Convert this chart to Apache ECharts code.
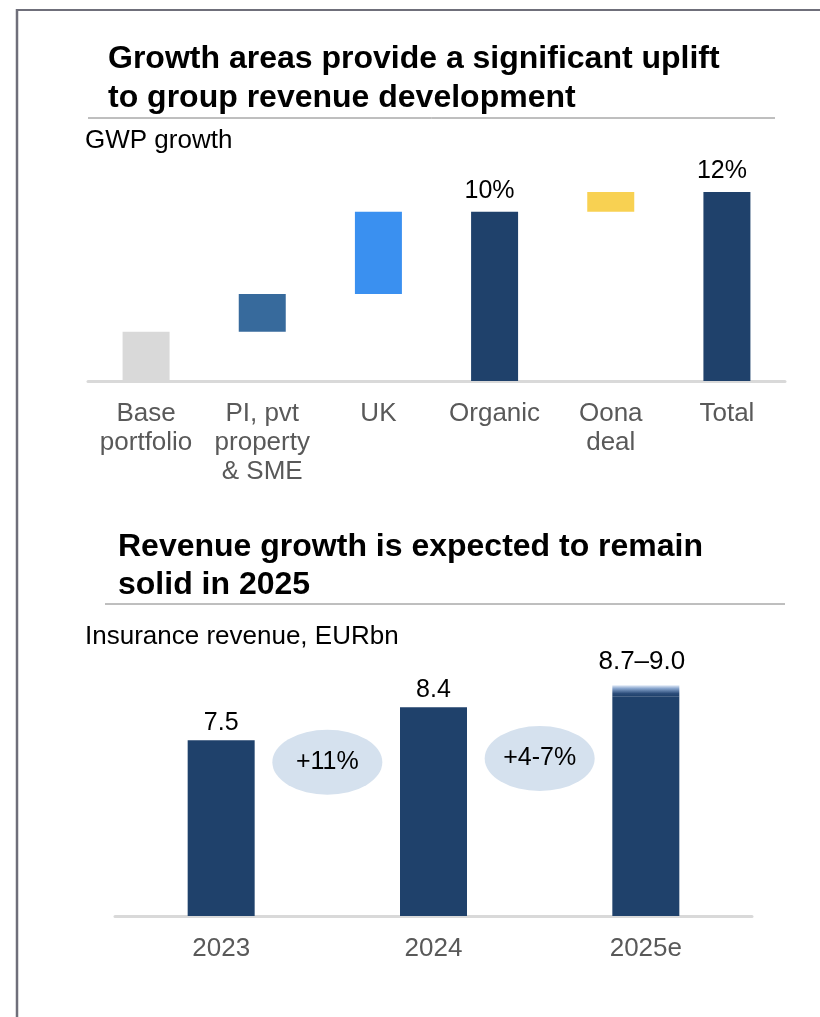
<!DOCTYPE html>
<html>
<head>
<meta charset="utf-8">
<script src="https://cdn.jsdelivr.net/npm/echarts@6/dist/echarts.min.js"></script>
<style>
html,body{margin:0;padding:0;background:#fff;}
#chart{width:820px;height:1017px;}
</style>
</head>
<body>
<div id="chart"></div>
<script>
// ---- Data ----
const gwpCategories = ['Base\nportfolio', 'PI, pvt\nproperty\n& SME', 'UK', 'Organic', 'Oona\ndeal', 'Total'];
const gwpValues = [3.0, 2.3, 5.0, 10.3, 1.2, 11.5];
const gwpIsTotal = [false, false, false, true, false, true];
const gwpLabels = ['', '', '', '10%', '', '12%'];

const revCategories = ['2023', '2024', '2025e'];
const revLow = [7.5, 8.4, 8.7];
const revHigh = [7.5, 8.4, 9.0];
const revLabels = ['7.5', '8.4', '8.7–9.0'];
const growthLabels = ['+11%', '+4-7%'];

// ---- Styles ----
const gwpColors = ['#d9d9d9', '#376a9c', '#3a90f0', '#1f416b', '#f8d152', '#1f416b'];
const navy = '#1f416b';
const FONT = '"Liberation Sans", Arial, sans-serif';

// waterfall offsets
const gwpBase = [];
let running = 0;
gwpValues.forEach((v, i) => {
  if (gwpIsTotal[i]) { gwpBase.push(0); running = v; }
  else { gwpBase.push(running); running += v; }
});

const chart = echarts.init(document.getElementById('chart'), null, {renderer: 'canvas'});

const option = {
  backgroundColor: '#fff',
  animation: false,
  title: [
    {
      text: 'Growth areas provide a significant uplift\nto group revenue development',
      left: 108, top: 40, padding: 0,
      textStyle: {fontFamily: FONT, fontSize: 32, fontWeight: 'bold', color: '#000', lineHeight: 39}
    },
    {
      text: 'GWP growth',
      left: 85, top: 126, padding: 0,
      textStyle: {fontFamily: FONT, fontSize: 26, fontWeight: 'normal', color: '#000', lineHeight: 30}
    },
    {
      text: 'Revenue growth is expected to remain\nsolid in 2025',
      left: 118, top: 528, padding: 0,
      textStyle: {fontFamily: FONT, fontSize: 32, fontWeight: 'bold', color: '#000', lineHeight: 38}
    },
    {
      text: 'Insurance revenue, EURbn',
      left: 85, top: 622, padding: 0,
      textStyle: {fontFamily: FONT, fontSize: 26, fontWeight: 'normal', color: '#000', lineHeight: 30}
    }
  ],
  graphic: [
    {type: 'line', shape: {x1: 17, y1: 10, x2: 820, y2: 10}, style: {stroke: '#6f6f7a', lineWidth: 2}},
    {type: 'line', shape: {x1: 17, y1: 9, x2: 17, y2: 1017}, style: {stroke: '#6f6f7a', lineWidth: 2.5}},
    {type: 'line', shape: {x1: 88, y1: 118, x2: 775, y2: 118}, style: {stroke: '#7f7f7f', lineWidth: 1}},
    {type: 'line', shape: {x1: 105, y1: 604, x2: 785, y2: 604}, style: {stroke: '#7f7f7f', lineWidth: 1}}
  ],
  grid: [
    {left: 88, width: 697, top: 151, height: 230},
    {left: 115, width: 637, top: 623, height: 293}
  ],
  xAxis: [
    {
      type: 'category', gridIndex: 0, data: gwpCategories,
      axisLine: {lineStyle: {color: '#d9d9d9', width: 3}},
      axisTick: {show: false},
      axisLabel: {interval: 0, margin: 18, fontFamily: FONT, fontSize: 26, color: '#595959', lineHeight: 29}
    },
    {
      type: 'category', gridIndex: 1, data: revCategories,
      axisLine: {lineStyle: {color: '#d9d9d9', width: 3}},
      axisTick: {show: false},
      axisLabel: {interval: 0, margin: 18, fontFamily: FONT, fontSize: 26, color: '#595959', lineHeight: 29}
    },
    {
      type: 'value', gridIndex: 1, min: -0.5, max: 2.5, show: false
    }
  ],
  yAxis: [
    {type: 'value', gridIndex: 0, min: 0, max: 14, show: false, splitLine: {show: false}},
    {type: 'value', gridIndex: 1, min: 2.7, max: 10.7, show: false, splitLine: {show: false}}
  ],
  series: [
    {
      type: 'bar', xAxisIndex: 0, yAxisIndex: 0, stack: 'wf', barWidth: 47, silent: true,
      itemStyle: {color: 'rgba(0,0,0,0)'},
      data: gwpBase
    },
    {
      type: 'bar', xAxisIndex: 0, yAxisIndex: 0, stack: 'wf', barWidth: 47,
      data: gwpValues.map((v, i) => ({
        value: v,
        itemStyle: {color: gwpColors[i]},
        label: {
          show: gwpLabels[i] !== '', position: 'top', distance: 8, offset: [-5, 0],
          formatter: gwpLabels[i], fontFamily: FONT, fontSize: 25, color: '#000'
        }
      }))
    },
    {
      type: 'bar', xAxisIndex: 1, yAxisIndex: 1, stack: 'rev', barWidth: 67,
      data: revLow.map((v, i) => ({
        value: v,
        itemStyle: {color: navy},
        label: {
          show: revHigh[i] === v, position: 'top', distance: 5,
          formatter: revLabels[i], fontFamily: FONT, fontSize: 25, color: '#000'
        }
      }))
    },
    {
      type: 'bar', xAxisIndex: 1, yAxisIndex: 1, stack: 'rev', barWidth: 67,
      data: revHigh.map((v, i) => ({
        value: v - revLow[i] > 0 ? +(v - revLow[i]).toFixed(2) : '-',
        itemStyle: {
          color: new echarts.graphic.LinearGradient(0, 0, 0, 1, [
            {offset: 0, color: '#e2ebf7'},
            {offset: 0.3, color: '#86a3cc'},
            {offset: 0.75, color: '#2c4d7a'},
            {offset: 1, color: navy}
          ])
        },
        label: {
          show: v - revLow[i] > 0, position: 'top', distance: 10, offset: [-4, 0],
          formatter: revLabels[i], fontFamily: FONT, fontSize: 26, color: '#000'
        }
      }))
    },
    {
      type: 'scatter', xAxisIndex: 2, yAxisIndex: 1, symbol: 'circle', symbolSize: [110, 65],
      silent: true, z: 1,
      itemStyle: {color: '#d5e1ee', opacity: 1},
      label: {show: true, position: 'inside', fontFamily: FONT, fontSize: 25, color: '#000', formatter: p => p.data.text},
      data: growthLabels.map((t, i) => ({value: [i + 0.5, i === 0 ? 6.9 : 7.0], text: t}))
    }
  ]
};
chart.setOption(option);
</script>
</body>
</html>
